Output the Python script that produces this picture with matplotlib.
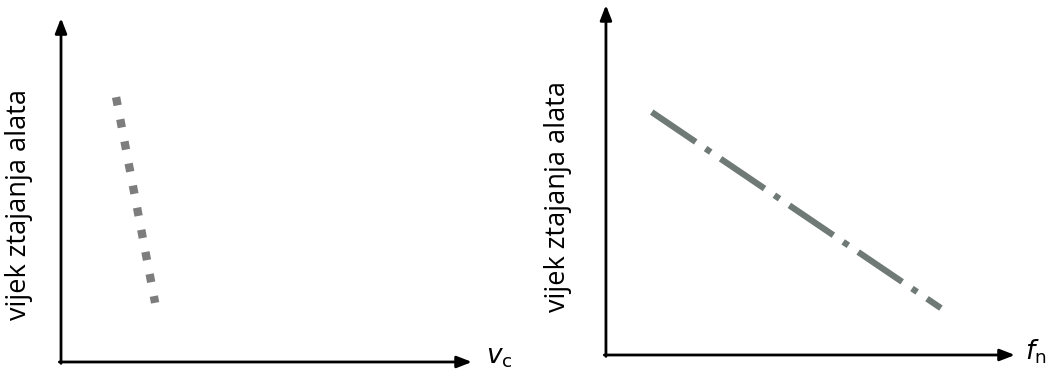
import matplotlib.pyplot as plt

# line endpoints (axes data units 0..10)
speed_x = [1.34, 2.29]
speed_y = [7.70, 1.72]
feed_x = [1.12, 8.19]
feed_y = [6.94, 1.34]

ylabel = "vijek ztajanja alata"

plt.rcParams['font.family'] = ['Open Sans', 'DejaVu Sans']
plt.rcParams['mathtext.fontset'] = 'dejavusans'

fig = plt.figure(figsize=(10.5, 3.8), dpi=100)
ax1 = fig.add_axes([0.0581, 0.0474, 0.3914, 0.905])
ax2 = fig.add_axes([0.5771, 0.0658, 0.3895, 0.921])


def setup(ax):
    ax.set_xlim(0, 10)
    ax.set_ylim(0, 10)
    for s in ax.spines.values():
        s.set_visible(False)
    ax.set_xticks([])
    ax.set_yticks([])
    ax.patch.set_alpha(0)
    arrow = dict(arrowstyle='-|>,head_length=0.9,head_width=0.35',
                 color='black', lw=2, shrinkA=0, shrinkB=0)
    ax.annotate('', xy=(1, 0), xytext=(-0.004, 0), xycoords='axes fraction',
                arrowprops=arrow)
    ax.annotate('', xy=(0, 1), xytext=(0, -0.004), xycoords='axes fraction',
                arrowprops=arrow)


setup(ax1)
setup(ax2)

ax1.plot(speed_x, speed_y, color='#7d7d7d', lw=6.0,
         linestyle=(0, (1.0, 1.7)), solid_capstyle='butt', dash_capstyle='butt')
ax2.plot(feed_x, feed_y, color='#6f7a77', lw=4.5,
         linestyle=(0, (8.5, 1.9, 1.0, 1.9)), dash_capstyle='butt')

fig.text(0.018, 0.461, ylabel, rotation=90, fontsize=19.5, ha='center', va='center')
fig.text(0.531, 0.482, ylabel, rotation=90, fontsize=19.5, ha='center', va='center')

fig.text(0.463, 0.06, r'$v_\mathrm{c}$', fontsize=19, ha='left', va='center')
fig.text(0.976, 0.075, r'$f_\mathrm{n}$', fontsize=19, ha='left', va='center')

fig.savefig('out.png', dpi=100, facecolor='white')
